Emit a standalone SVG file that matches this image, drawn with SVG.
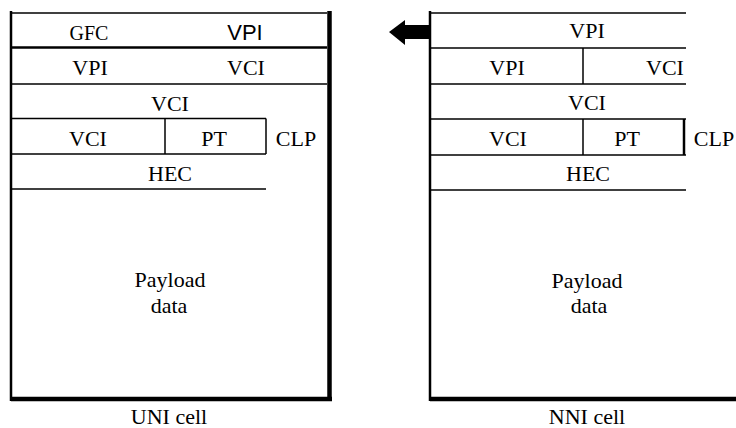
<svg xmlns="http://www.w3.org/2000/svg" width="736" height="428" viewBox="0 0 736 428">
<style>
.l{stroke:#000;stroke-width:1.5;fill:none}
.m{stroke:#000;stroke-width:2.5;fill:none}
.t{stroke:#000;stroke-width:4.5;fill:none}
</style>
<rect width="736" height="428" fill="#fff"/>
<g id="uni-cell" font-family="'Liberation Serif', 'DejaVu Serif', 'Times New Roman', serif" font-size="22" text-anchor="middle" fill="#000">
  <line class="l" x1="11" y1="13" x2="327" y2="13"/>
  <line class="m" x1="11" y1="11" x2="11" y2="401"/>
  <line class="t" x1="329.5" y1="11" x2="329.5" y2="401"/>
  <line class="m" x1="11" y1="47.5" x2="327" y2="47.5"/>
  <line class="l" x1="11" y1="84" x2="327" y2="84"/>
  <line class="l" x1="11" y1="118.5" x2="266" y2="118.5"/>
  <line class="l" x1="11" y1="154" x2="266" y2="154"/>
  <line class="l" x1="11" y1="189" x2="266" y2="189"/>
  <line class="l" x1="165" y1="118.5" x2="165" y2="154"/>
  <line class="l" x1="266" y1="118.5" x2="266" y2="154"/>
  <line class="t" x1="11" y1="399" x2="332" y2="399"/>
  <text x="89" y="40" font-size="20">GFC</text>
  <text x="245" y="40" font-family="'Liberation Sans', Arial, sans-serif" font-size="22">VPI</text>
  <text x="90" y="75">VPI</text>
  <text x="246" y="75">VCI</text>
  <text x="170" y="111">VCI</text>
  <text x="88" y="146">VCI</text>
  <text x="214" y="146">PT</text>
  <text x="296" y="146">CLP</text>
  <text x="170" y="181">HEC</text>
  <text x="170" y="287">Payload</text>
  <text x="169" y="313">data</text>
  <text x="169" y="424">UNI cell</text>
</g>
<g id="nni-cell" font-family="'Liberation Serif', 'DejaVu Serif', 'Times New Roman', serif" font-size="22" text-anchor="middle" fill="#000">
  <line class="m" x1="430" y1="11" x2="430" y2="401"/>
  <line class="l" x1="430" y1="13" x2="686" y2="13"/>
  <line class="l" x1="430" y1="48" x2="686" y2="48"/>
  <line class="l" x1="430" y1="84" x2="686" y2="84"/>
  <line class="l" x1="430" y1="119" x2="686" y2="119"/>
  <line class="l" x1="430" y1="155" x2="686" y2="155"/>
  <line class="l" x1="430" y1="190" x2="686" y2="190"/>
  <line class="l" x1="583" y1="48" x2="583" y2="84"/>
  <line class="l" x1="583" y1="119" x2="583" y2="155"/>
  <line class="m" x1="684" y1="119" x2="684" y2="155"/>
  <line class="t" x1="430" y1="399" x2="736" y2="399"/>
  <text x="587" y="38">VPI</text>
  <text x="507" y="75">VPI</text>
  <text x="665" y="75">VCI</text>
  <text x="587" y="110">VCI</text>
  <text x="508" y="146">VCI</text>
  <text x="627" y="146">PT</text>
  <text x="714" y="146">CLP</text>
  <text x="588" y="181">HEC</text>
  <text x="587" y="288">Payload</text>
  <text x="589" y="313">data</text>
  <text x="587" y="424">NNI cell</text>
</g>
<g id="connectors">
  <polygon points="389,32 405,20 405,25 430,25 430,39 405,39 405,45" fill="#000"/>
</g>
</svg>
